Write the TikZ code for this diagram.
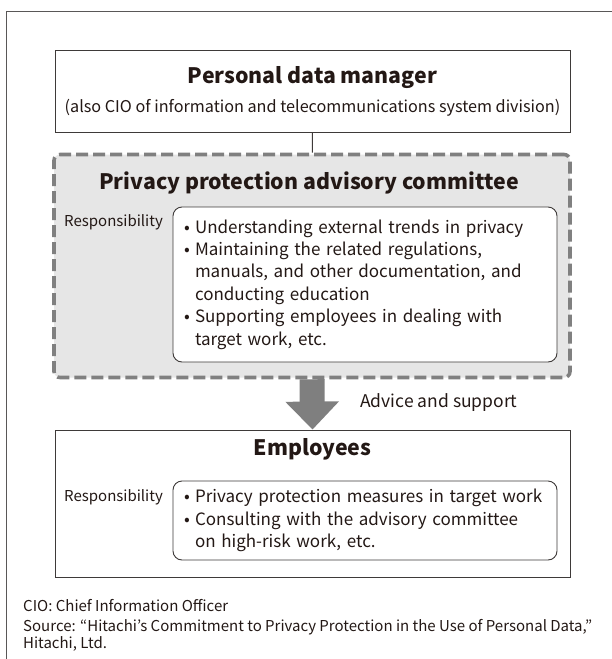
\documentclass[tikz,border=0pt]{standalone}
\usepackage{fontspec}
\setmainfont{Noto Sans CJK JP}
\usetikzlibrary{arrows.meta, positioning}
\definecolor{inkdark}{RGB}{35,24,21}
\definecolor{boxline}{RGB}{62,58,57}
\definecolor{framegray}{RGB}{89,87,87}
\definecolor{dashgray}{RGB}{128,128,128}
\definecolor{committeefill}{RGB}{230,230,230}
\definecolor{arrowgray}{RGB}{127,127,127}
\tikzset{
  unitbox/.style={
    draw=boxline,
    line width=0.9pt,
    fill=white,
    minimum width=515pt,
    inner sep=0pt
  },
  committee/.style={
    draw=dashgray,
    fill=committeefill,
    line width=3.6pt,
    dash pattern=on 12pt off 5pt,
    rounded corners=6pt,
    minimum width=516pt,
    minimum height=223pt,
    inner sep=0pt
  },
  duties/.style={
    draw=boxline,
    line width=0.9pt,
    fill=white,
    rounded corners=9pt,
    minimum width=384pt,
    align=left,
    text width=362pt,
    inner xsep=11pt,
    inner ysep=0pt,
    font=\fontsize{17}{22.4}\selectfont
  },
  heading/.style={font=\fontsize{21.3}{26}\selectfont\bfseries, inner sep=0pt},
  bodytext/.style={font=\fontsize{16.2}{20}\selectfont, inner sep=0pt},
  resp/.style={font=\fontsize{15}{18}\selectfont, inner sep=0pt},
  note/.style={font=\fontsize{15}{17.5}\selectfont, inner sep=0pt, align=left},
  frameline/.style={draw=framegray, line width=0.8pt},
  advice/.style={-{Triangle[width=52pt,length=28pt]}, line width=25pt, draw=arrowgray}
}
\newcommand{\bul}{\makebox[11pt][l]{•}}
\newcommand{\cont}{\hspace*{11pt}}

\begin{document}
\begin{tikzpicture}[x=1pt, y=-1pt, color=inkdark, text=inkdark]
  \useasboundingbox (0,0) rectangle (612,659);

  % outer frame, open at right and bottom
  \coordinate (framebl) at (6,659);
  \coordinate (frametr) at (612,11);
  \draw[frameline] (framebl) |- (frametr);

  % personal data manager
  \node[unitbox, minimum height=82pt] (mgr) at (312.5,91) {};
  \node[heading] (mgrtitle) at (312.5,78) {Personal data manager};
  \node[bodytext] (mgrnote) at (312.5,108)
    {(also CIO of information and telecommunications system division)};

  % advisory committee
  \node[committee] (comm) at (312,266) {};
  \node[heading] (commtitle) at (309,183) {Privacy protection advisory committee};
  \node[resp, anchor=west] (commresp) at (64,222) {Responsibility};
  \node[duties, minimum height=155pt] (commduty) at (365,284.5) {%
    \bul Understanding external trends in privacy\\
    \bul Maintaining the related regulations,\\
    \cont manuals, and other documentation, and\\
    \cont conducting education\\
    \bul Supporting employees in dealing with\\
    \cont target work, etc.};

  % employees
  \node[unitbox, minimum height=147pt] (emp) at (312.5,503.5) {};
  \node[heading] (emptitle) at (312.5,449) {Employees};
  \node[resp, anchor=west] (empresp) at (64,497) {Responsibility};
  \node[duties, minimum height=79pt] (empduty) at (365,520.5) {%
    \bul Privacy protection measures in target work\\
    \bul Consulting with the advisory committee\\
    \cont on high-risk work, etc.};

  \draw[boxline, line width=0.9pt] (mgr) -- (comm);
  \draw[advice] (comm.south) -- (emp.north);
  \node[bodytext, font=\fontsize{17.5}{20}\selectfont, anchor=west] (advicelabel) at (360,403) {Advice and support};

  % notes
  \node[note, anchor=west] (cio) at (23,606) {CIO: Chief Information Officer};
  \node[note, anchor=north west] (source) at (23,619) {Source: “Hitachi’s Commitment to Privacy Protection in the Use of Personal Data,”\\
    Hitachi, Ltd.};
\end{tikzpicture}
\end{document}
